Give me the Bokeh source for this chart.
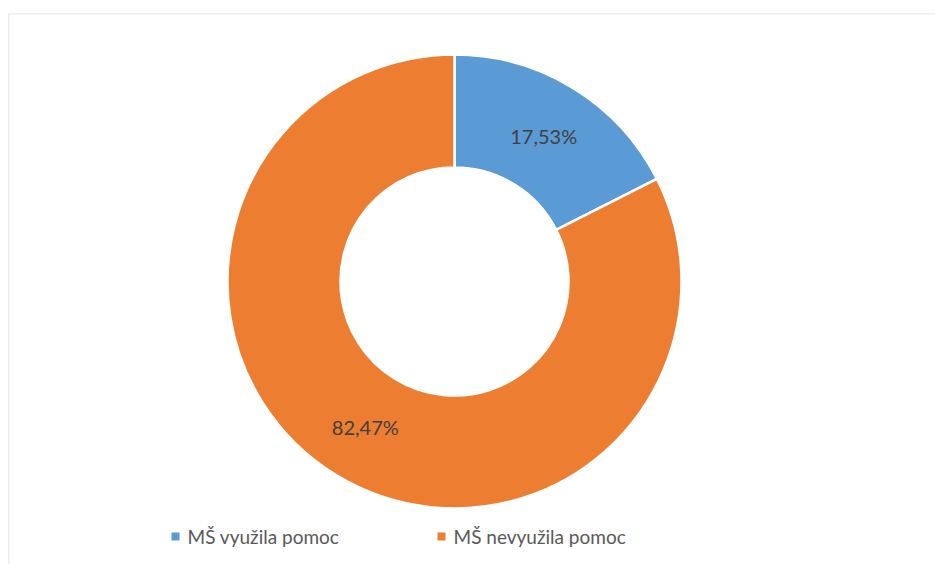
import math
from bokeh.plotting import figure
from bokeh.models import Range1d, ColumnDataSource, Span
from bokeh.core.properties import value
from bokeh.embed import file_html
from bokeh.resources import INLINE

categories = ["MŠ využila pomoc", "MŠ nevyužila pomoc"]
values = [17.53, 82.47]
labels = ["17,53%", "82,47%"]
colors = ["#5B9BD5", "#ED7D31"]

W, H = 927, 551
p = figure(width=W + 8, height=H + 13, output_backend="svg", toolbar_location=None,
           x_range=Range1d(0, W), y_range=Range1d(0, H),
           min_border_left=8, min_border_right=0, min_border_top=13, min_border_bottom=0)
p.axis.visible = False
p.grid.visible = False
p.outline_line_color = None
p.background_fill_color = "white"
p.add_layout(Span(location=0, dimension="height", line_color="#D9D9D9", line_width=1.5))
p.add_layout(Span(location=H, dimension="width", line_color="#D9D9D9", line_width=1.5))

cx, cy = 446, 283
r_out, r_in = 227, 114
total = sum(values)
starts, ends = [], []
a = math.pi / 2
for v in values:
    starts.append(a)
    a = a - v / total * 2 * math.pi
    ends.append(a)

src = ColumnDataSource(dict(start=starts, end=ends, color=colors, cat=categories))
p.annular_wedge(x=cx, y=cy, inner_radius=r_in, outer_radius=r_out,
                start_angle="end", end_angle="start", fill_color="color",
                line_color="white", line_width=2.5, source=src)

# data labels
lx, ly = [], []
for s, e in zip(starts, ends):
    mid = (s + e) / 2
    rr = (r_in + r_out) / 2
    lx.append(cx + rr * math.cos(mid))
    ly.append(cy + rr * math.sin(mid))
p.text(x=lx, y=ly, text=labels, text_align="center", text_baseline="middle",
       text_font=value("Lato"), text_font_size="20px", text_color="#404040")

# legend
leg_x = [167, 433]
leg_y = [H - 523, H - 523]
p.scatter(x=leg_x, y=leg_y, marker="square", size=8, fill_color=colors, line_color=None)
p.text(x=[x + 12 for x in leg_x], y=leg_y, text=categories, text_align="left",
       text_baseline="middle", text_font=value("Lato"), text_font_size="19px",
       text_color="#595959")

open("out.html", "w").write(file_html(p, INLINE))
